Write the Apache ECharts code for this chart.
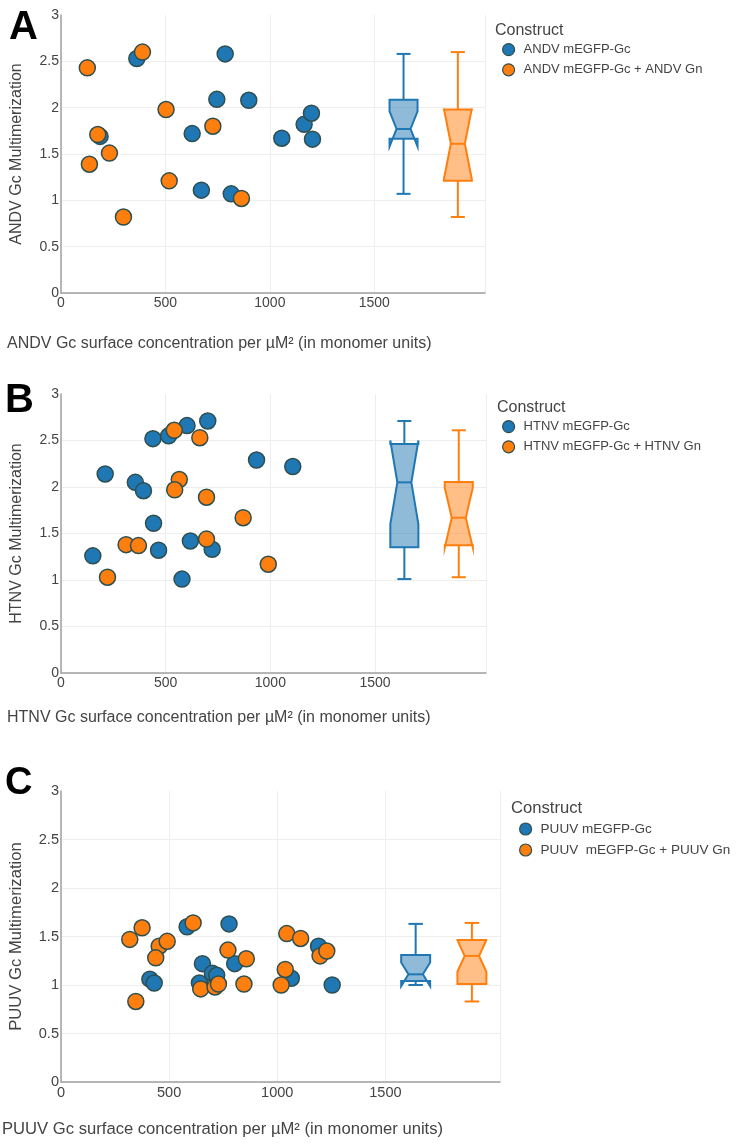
<!DOCTYPE html>
<html>
<head>
<meta charset="utf-8">
<script src="https://cdn.jsdelivr.net/npm/echarts@6/dist/echarts.min.js"></script>
<style>
html, body { margin: 0; padding: 0; background: #fff; }
#chart { width: 736px; height: 1147px; }
</style>
</head>
<body>
<div id="chart"></div>
<script>
// A - ANDV
var andvGcX = [363, 786, 746, 899, 628, 187, 672, 815, 1057, 1164, 1199, 1204];
var andvGcY = [2.53, 2.58, 2.09, 2.08, 1.72, 1.69, 1.11, 1.07, 1.67, 1.82, 1.94, 1.66];
var andvGnX = [126, 390, 503, 176, 232, 136, 518, 299, 727, 864];
var andvGnY = [2.43, 2.60, 1.98, 1.71, 1.51, 1.39, 1.21, 0.82, 1.80, 1.02];
// B - HTNV
var htnvGcX = [152, 211, 355, 394, 439, 514, 602, 701, 442, 466, 578, 618, 722, 934, 1107];
var htnvGcY = [1.26, 2.14, 2.05, 1.96, 2.52, 2.55, 2.66, 2.71, 1.61, 1.32, 1.01, 1.42, 1.33, 2.29, 2.22];
var htnvGnX = [541, 663, 565, 543, 695, 870, 695, 311, 370, 222, 990];
var htnvGnY = [2.61, 2.53, 2.08, 1.97, 1.89, 1.67, 1.44, 1.38, 1.37, 1.03, 1.17];
// C - PUUV
var puuvGcX = [583, 777, 654, 803, 411, 431, 640, 700, 720, 1065, 1191, 1254];
var puuvGcY = [1.60, 1.63, 1.22, 1.22, 1.06, 1.02, 1.02, 1.12, 1.10, 1.07, 1.40, 1.00];
var puuvGnX = [318, 375, 454, 491, 438, 346, 611, 772, 857, 846, 646, 712, 728, 1044, 1108, 1037, 1018, 1198, 1229];
var puuvGnY = [1.47, 1.59, 1.40, 1.45, 1.28, 0.83, 1.64, 1.36, 1.27, 1.01, 0.96, 0.98, 1.01, 1.53, 1.48, 1.16, 1.00, 1.30, 1.35];

var boxX = [1640, 1900];   // where the two box traces sit on the x axis
var yTicks = [0, 0.5, 1, 1.5, 2, 2.5, 3];
var xTicks = [0, 500, 1000, 1500];

var panels = [
    { letter: 'A', names: ['ANDV mEGFP-Gc', 'ANDV mEGFP-Gc + ANDV Gn'], yName: 'ANDV Gc Multimerization',
      xName: 'ANDV Gc surface concentration per µM² (in monomer units)',
      xs: [andvGcX, andvGnX], ys: [andvGcY, andvGnY] },
    { letter: 'B', names: ['HTNV mEGFP-Gc', 'HTNV mEGFP-Gc + HTNV Gn'], yName: 'HTNV Gc Multimerization',
      xName: 'HTNV Gc surface concentration per µM² (in monomer units)',
      xs: [htnvGcX, htnvGnX], ys: [htnvGcY, htnvGnY] },
    { letter: 'C', names: ['PUUV mEGFP-Gc', 'PUUV  mEGFP-Gc + PUUV Gn'], yName: 'PUUV Gc Multimerization',
      xName: 'PUUV Gc surface concentration per µM² (in monomer units)',
      xs: [puuvGcX, puuvGnX], ys: [puuvGcY, puuvGnY] }
];

// layout per panel (px)
var layout = [
    { grid: { left: 61, top: 15, width: 424, height: 278 }, letter: [9, 8, 40], xTitle: [7, 336], construct: [495, 23], legend: [502, 43], font: 1 },
    { grid: { left: 61, top: 394, width: 425, height: 279 }, letter: [5, 381, 40], xTitle: [7, 710], construct: [497, 400], legend: [502, 420], font: 1 },
    { grid: { left: 61, top: 791, width: 439, height: 291 }, letter: [5, 765, 38], xTitle: [2, 1121], construct: [511, 800], legend: [519, 822], font: 1.04 }
];

var colors = ['#1f77b4', '#ff7f0e'];
var fills = ['rgba(31,119,180,0.5)', 'rgba(255,127,14,0.5)'];
var FONT = '"Liberation Sans", Arial, sans-serif';
var BOX_HALF = 67;

// plotly style quantile
function interp(arr, p) {
    var n = p * arr.length - 0.5;
    if (n < 0) return arr[0];
    if (n > arr.length - 1) return arr[arr.length - 1];
    var f = n % 1;
    return f * arr[Math.ceil(n)] + (1 - f) * arr[Math.floor(n)];
}
function boxStats(vals) {
    var s = vals.slice().sort(function (a, b) { return a - b; });
    var q1 = interp(s, 0.25), med = interp(s, 0.5), q3 = interp(s, 0.75);
    var iqr = q3 - q1;
    var lo = q1 - 1.5 * iqr, hi = q3 + 1.5 * iqr;
    var lf = Math.min.apply(null, s.filter(function (v) { return v >= lo; }));
    var uf = Math.max.apply(null, s.filter(function (v) { return v <= hi; }));
    var d = 1.57 * iqr / Math.sqrt(s.length);
    return [lf, q1, med, q3, uf, med - d, med + d];
}

function renderBox(params, api) {
    var x = api.value(0);
    var py = function (v) { return api.coord([x, v])[1]; };
    var px = function (v) { return api.coord([v, 0])[0]; };
    var l = px(x - BOX_HALF), r = px(x + BOX_HALF);
    var ml = px(x - BOX_HALF / 2), mr = px(x + BOX_HALF / 2), c = px(x);
    var lf = py(api.value(1)), q1 = py(api.value(2)), med = py(api.value(3)),
        q3 = py(api.value(4)), uf = py(api.value(5)), ln = py(api.value(6)), un = py(api.value(7));
    var col = api.visual('color');
    var fill = fills[params.dataIndex];
    var st = { stroke: col, lineWidth: 2, fill: null };
    return {
        type: 'group',
        children: [
            { type: 'polygon', shape: { points: [[l, q1], [l, ln], [ml, med], [l, un], [l, q3], [r, q3], [r, un], [mr, med], [r, ln], [r, q1]] },
              style: { fill: fill, stroke: col, lineWidth: 2 } },
            { type: 'line', shape: { x1: ml, y1: med, x2: mr, y2: med }, style: st },
            { type: 'line', shape: { x1: c, y1: q1, x2: c, y2: lf }, style: st },
            { type: 'line', shape: { x1: c, y1: q3, x2: c, y2: uf }, style: st },
            { type: 'line', shape: { x1: ml, y1: lf, x2: mr, y2: lf }, style: st },
            { type: 'line', shape: { x1: ml, y1: uf, x2: mr, y2: uf }, style: st }
        ]
    };
}

var option = {
    backgroundColor: '#fff',
    animation: false,
    textStyle: { fontFamily: FONT },
    title: [], grid: [], xAxis: [], yAxis: [], legend: [], series: []
};

panels.forEach(function (p, i) {
    var L = layout[i], k = L.font;
    option.grid.push(L.grid);
    option.title.push({ text: p.letter, left: L.letter[0], top: L.letter[1], padding: 0,
        textStyle: { fontSize: L.letter[2], fontWeight: 'bold', color: '#000', fontFamily: FONT } });
    option.title.push({ text: p.xName, left: L.xTitle[0], top: L.xTitle[1], padding: 0,
        textStyle: { fontSize: 16 * k, fontWeight: 'normal', color: '#444', fontFamily: FONT } });
    option.title.push({ text: 'Construct', left: L.construct[0], top: L.construct[1], padding: 0,
        textStyle: { fontSize: 16 * k, fontWeight: 'normal', color: '#444', fontFamily: FONT } });

    option.xAxis.push({
        type: 'value', gridIndex: i, min: 0, max: 2030, interval: 500,
        axisLine: { show: true, lineStyle: { color: '#a0a0a0', width: 1.5 } },
        axisTick: { show: false },
        axisLabel: { margin: 3, fontSize: 14 * k, color: '#444',
            formatter: function (v) { return xTicks.indexOf(v) >= 0 ? String(v) : ''; } },
        splitLine: { show: true, lineStyle: { color: ['#eee', '#eee', '#eee', '#eee', 'rgba(0,0,0,0)'], width: 1 } }
    });
    option.yAxis.push({
        type: 'value', gridIndex: i, min: 0, max: 3, interval: 0.5,
        name: p.yName, nameLocation: 'middle', nameGap: 36,
        nameTextStyle: { fontSize: 16 * k, color: '#444', fontFamily: FONT },
        axisLine: { show: true, lineStyle: { color: '#a0a0a0', width: 1.5 } },
        axisTick: { show: false },
        axisLabel: { margin: 2, fontSize: 14 * k, color: '#444',
            formatter: function (v) { return yTicks.indexOf(v) >= 0 ? String(v) : ''; } },
        splitLine: { show: true, lineStyle: { color: ['#eee', '#eee', '#eee', '#eee', '#eee', '#eee', 'rgba(0,0,0,0)'], width: 1 } }
    });
    option.legend.push({
        orient: 'vertical', left: L.legend[0], top: L.legend[1], padding: 0,
        itemWidth: 12, itemHeight: 12, itemGap: 7, icon: 'circle',
        data: p.names,
        itemStyle: { borderColor: '#2f4f4f', borderWidth: 1.2 },
        textStyle: { fontSize: 13 * k, color: '#444', padding: [0, 0, 0, 4], fontFamily: FONT }
    });

    [0, 1].forEach(function (j) {
        option.series.push({
            type: 'scatter', name: p.names[j], xAxisIndex: i, yAxisIndex: i,
            symbolSize: 16,
            itemStyle: { color: colors[j], borderColor: '#2f4f4f', borderWidth: 1.5, opacity: 1 },
            data: p.xs[j].map(function (x, n) { return [x, p.ys[j][n]]; })
        });
    });

    option.series.push({
        type: 'custom', xAxisIndex: i, yAxisIndex: i, clip: false, z: 1,
        renderItem: renderBox,
        encode: { x: 0, y: [1, 2, 3, 4, 5] },
        data: [0, 1].map(function (j) {
            return { value: [boxX[j]].concat(boxStats(p.ys[j])), itemStyle: { color: colors[j] } };
        })
    });
});

var myChart = echarts.init(document.getElementById('chart'));
myChart.setOption(option);
</script>
</body>
</html>
